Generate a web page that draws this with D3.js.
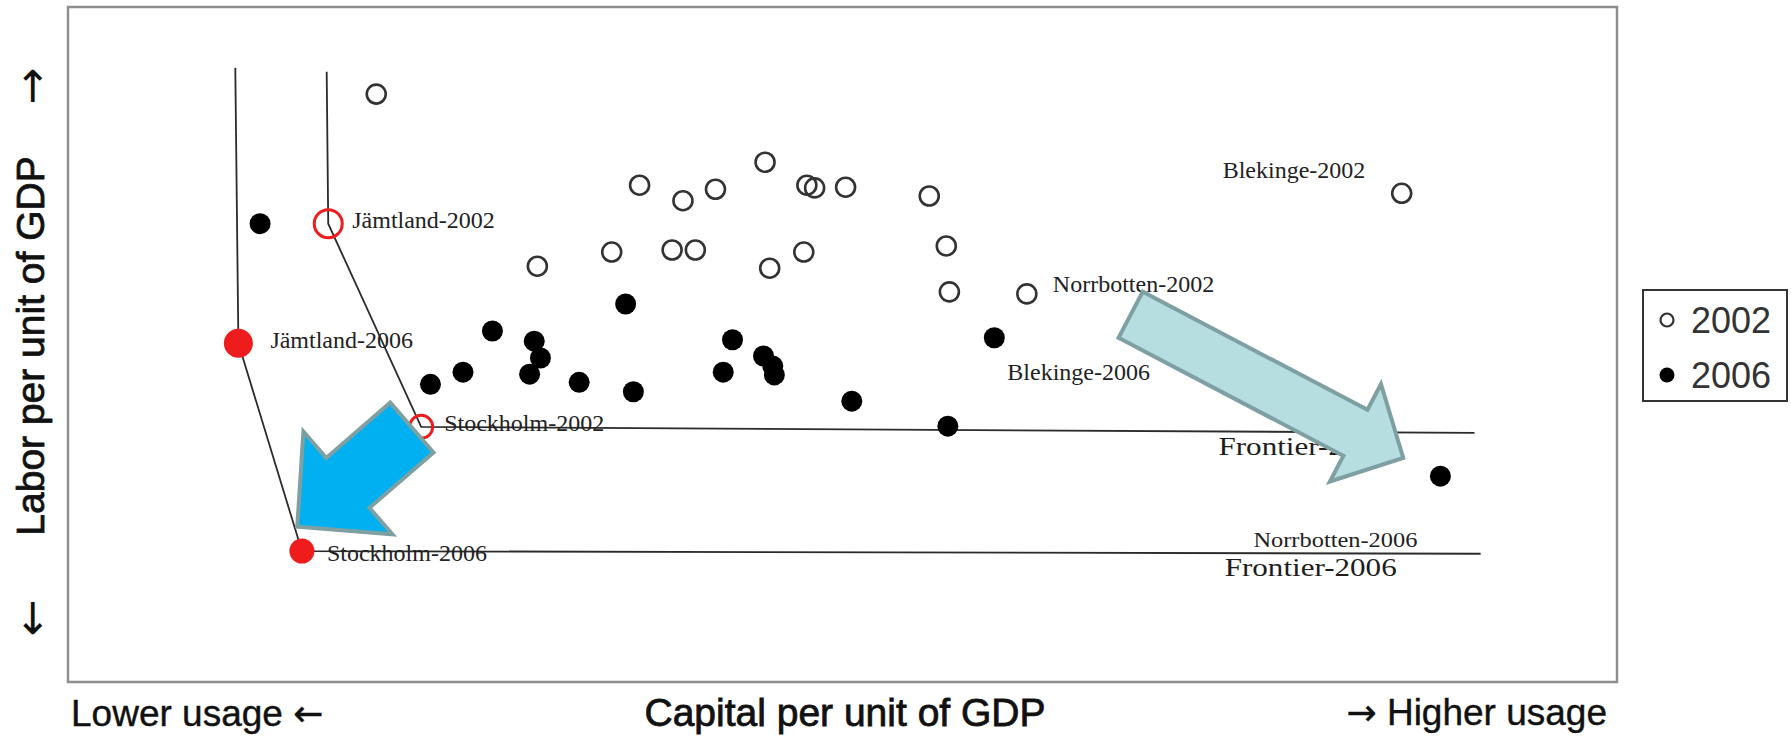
<!DOCTYPE html>
<html>
<head>
<meta charset="utf-8">
<script src="https://cdn.jsdelivr.net/npm/d3@7"></script>
<style>
  body { margin: 0; background: #fff; }
</style>
</head>
<body>
<svg id="canvas" width="1791" height="738"></svg>
<script>
// capital and labor per unit of GDP, as a relative index (0-100 across the plot box)
let capital2002 = [19.9, 36.9, 39.7, 41.8, 45.0, 47.7, 48.2, 50.2, 55.6, 35.1, 39.0, 40.5, 30.3, 45.3, 47.5, 56.7, 56.9, 61.9, 86.1, 16.8, 22.8]
let labor2002   = [87.1, 73.6, 71.3, 73.0, 77.0, 73.6, 73.2, 73.3, 72.0, 63.7, 64.0, 64.0, 61.6, 61.3, 63.7, 64.6, 57.8, 57.5, 72.4, 67.9, 37.8]
let names2002   = ['', '', '', '', '', '', '', '', '', '', '', '', '', '', '', '', '', 'Norrbotten-2002', 'Blekinge-2002', 'Jämtland-2002', 'Stockholm-2002']

let capital2006 = [12.4, 36.0, 27.4, 30.1, 30.5, 29.8, 25.5, 23.4, 33.0, 36.5, 42.9, 42.3, 44.9, 45.5, 45.6, 50.6, 56.8, 59.8, 88.6, 11.0, 15.1]
let labor2006   = [67.9, 56.0, 52.0, 50.5, 48.0, 45.6, 45.9, 44.1, 44.4, 43.0, 50.7, 45.9, 48.3, 46.8, 45.5, 41.6, 37.9, 51.0, 30.5, 50.2, 19.4]
let names2006   = ['', '', '', '', '', '', '', '', '', '', '', '', '', '', '', '', '', 'Blekinge-2006', 'Norrbotten-2006', 'Jämtland-2006', 'Stockholm-2006']

// regions that span the efficiency frontier (drawn in red)
let frontierRegions = ['Jämtland-2002', 'Stockholm-2002', 'Jämtland-2006', 'Stockholm-2006']

// frontier envelopes
let frontier2002Capital = [16.7, 16.8, 22.8, 90.8]
let frontier2002Labor   = [90.4, 67.9, 37.8, 36.9]
let frontier2006Capital = [10.8, 11.0, 15.1, 91.2]
let frontier2006Labor   = [91.0, 50.2, 19.4, 19.0]
let frontierNames = ['Frontier-2002', 'Frontier-2006']

let legendYears = ['2002', '2006']

let canvas = d3.select('#canvas')

let xScale = d3.scaleLinear().domain([0, 100]).range([68, 1617])
let yScale = d3.scaleLinear().domain([0, 100]).range([682, 7])

let makePoints = (cap, lab, names, year) => {
    return cap.map((c, i) => {
        return { x: c, y: lab[i], name: names[i], year: year }
    })
}

let points2002 = makePoints(capital2002, labor2002, names2002, '2002')
let points2006 = makePoints(capital2006, labor2006, names2006, '2006')

// plot box
canvas.append('rect')
      .attr('x', xScale(0))
      .attr('y', yScale(100))
      .attr('width', xScale(100) - xScale(0))
      .attr('height', yScale(0) - yScale(100))
      .attr('fill', 'none')
      .attr('stroke', '#8e8e8e')
      .attr('stroke-width', 2.5)

// frontier lines
let line = d3.line()
             .x((d) => xScale(d[0]))
             .y((d) => yScale(d[1]))

let frontiers = [
    d3.zip(frontier2002Capital, frontier2002Labor),
    d3.zip(frontier2006Capital, frontier2006Labor)
]

canvas.selectAll('.frontier')
      .data(frontiers)
      .enter()
      .append('path')
      .attr('class', 'frontier')
      .attr('d', line)
      .attr('fill', 'none')
      .attr('stroke', '#2b2b2b')
      .attr('stroke-width', 1.8)

// frontier labels, set back from the end of each line
canvas.selectAll('.frontier-label')
      .data(frontiers)
      .enter()
      .append('text')
      .attr('class', 'frontier-label')
      .attr('x', (d) => xScale(d[d.length - 1][0]) - 256)
      .attr('y', (d) => yScale(d[d.length - 1][1]) + 22)
      .attr('textLength', 172)
      .attr('lengthAdjust', 'spacingAndGlyphs')
      .attr('font-family', 'Liberation Serif, Times New Roman, serif')
      .attr('font-size', 26)
      .attr('fill', '#1e1e1e')
      .text((d, i) => frontierNames[i])

// region labels (offsets in px from the point)
let labelOffsets = {
    'Jämtland-2002':   { dx: 24,   dy: 4 },
    'Stockholm-2002':  { dx: 23,   dy: 4 },
    'Norrbotten-2002': { dx: 26,   dy: -2 },
    'Blekinge-2002':   { dx: -179, dy: -15 },
    'Jämtland-2006':   { dx: 32,   dy: 5 },
    'Stockholm-2006':  { dx: 25,   dy: 10 },
    'Blekinge-2006':   { dx: 13,   dy: 42 },
    'Norrbotten-2006': { dx: -187, dy: 71, size: 20, len: 164 }
}

let named = points2002.concat(points2006).filter((p) => p.name !== '')

canvas.selectAll('.region-label')
      .data(named)
      .enter()
      .append('text')
      .attr('class', 'region-label')
      .attr('x', (p) => xScale(p.x) + labelOffsets[p.name].dx)
      .attr('y', (p) => yScale(p.y) + labelOffsets[p.name].dy)
      .attr('font-family', 'Liberation Serif, Times New Roman, serif')
      .attr('font-size', (p) => labelOffsets[p.name].size || 24)
      .attr('fill', '#222')
      .each(function (p) {
          if (labelOffsets[p.name].len) {
              d3.select(this)
                .attr('textLength', labelOffsets[p.name].len)
                .attr('lengthAdjust', 'spacingAndGlyphs')
          }
      })
      .text((p) => p.name)

// 2002: open circles
let isRed = (p) => frontierRegions.includes(p.name)

canvas.selectAll('.p2002')
      .data(points2002)
      .enter()
      .append('circle')
      .attr('class', 'p2002')
      .attr('cx', (p) => xScale(p.x))
      .attr('cy', (p) => yScale(p.y))
      .attr('r', (p) => {
          if (p.name === 'Jämtland-2002') {
              return 14
          } else if (p.name === 'Stockholm-2002') {
              return 11.5
          }
          return 9.5
      })
      .attr('fill', 'none')
      .attr('stroke', (p) => isRed(p) ? '#ee1c1c' : '#333')
      .attr('stroke-width', (p) => isRed(p) ? 3 : 2.6)

// 2006: filled dots
canvas.selectAll('.p2006')
      .data(points2006)
      .enter()
      .append('circle')
      .attr('class', 'p2006')
      .attr('cx', (p) => xScale(p.x))
      .attr('cy', (p) => yScale(p.y))
      .attr('r', (p) => {
          if (p.name === 'Jämtland-2006') {
              return 14.5
          } else if (p.name === 'Stockholm-2006') {
              return 12.5
          }
          return 10.5
      })
      .attr('fill', (p) => isRed(p) ? '#ee1c1c' : '#000')

// block arrows (annotation), ends given in data units
let arrows = [
    { from: [22.2, 37.7], to: [14.8, 23.0], shaft: 33, wing: 68, head: 67, fill: '#00b0f0' },
    { from: [68.6, 54.4], to: [86.2, 33.2], shaft: 26, wing: 55, head: 54, fill: '#b6dee1' }
]

let arrowPath = (a) => {
    let tx = xScale(a.from[0]), ty = yScale(a.from[1])
    let px = xScale(a.to[0]), py = yScale(a.to[1])
    let len = Math.hypot(px - tx, py - ty)
    let ux = (px - tx) / len, uy = (py - ty) / len
    let nx = -uy, ny = ux
    let bx = px - ux * a.head, by = py - uy * a.head
    let pts = [
        [tx + nx * a.shaft, ty + ny * a.shaft],
        [bx + nx * a.shaft, by + ny * a.shaft],
        [bx + nx * a.wing, by + ny * a.wing],
        [px, py],
        [bx - nx * a.wing, by - ny * a.wing],
        [bx - nx * a.shaft, by - ny * a.shaft],
        [tx - nx * a.shaft, ty - ny * a.shaft]
    ]
    return d3.line()(pts) + 'Z'
}

canvas.selectAll('.arrow')
      .data(arrows)
      .enter()
      .append('path')
      .attr('class', 'arrow')
      .attr('d', arrowPath)
      .attr('fill', (a) => a.fill)
      .attr('stroke', '#7fa0a3')
      .attr('stroke-width', 4)
      .attr('stroke-linejoin', 'miter')

// legend
let legend = canvas.append('g')
                   .attr('transform', 'translate(1643, 290)')

legend.append('rect')
      .attr('width', 144)
      .attr('height', 111)
      .attr('fill', '#fff')
      .attr('stroke', '#333')
      .attr('stroke-width', 2)

let item = legend.selectAll('.item')
                 .data(legendYears)
                 .enter()
                 .append('g')
                 .attr('class', 'item')
                 .attr('transform', (d, i) => 'translate(0, ' + (30 + i * 55) + ')')

item.append('circle')
    .attr('cx', 24)
    .attr('cy', 0)
    .attr('r', (d) => d === '2002' ? 6.5 : 7.5)
    .attr('fill', (d) => d === '2002' ? 'none' : '#000')
    .attr('stroke', (d) => d === '2002' ? '#333' : 'none')
    .attr('stroke-width', 2.2)

item.append('text')
    .attr('x', 48)
    .attr('y', 13)
    .attr('font-family', 'Liberation Sans, Arial, sans-serif')
    .attr('font-size', 36)
    .attr('fill', '#333')
    .text((d) => d)

// axis titles
let sans = 'Liberation Sans, Arial, sans-serif'
let arrowFont = 'DejaVu Sans, sans-serif'

canvas.append('text')
      .attr('transform', 'translate(44, 346) rotate(-90)')
      .attr('text-anchor', 'middle')
      .attr('font-family', sans)
      .attr('font-size', 39)
      .attr('fill', '#111')
      .attr('stroke', '#111')
      .attr('stroke-width', 0.8)
      .text('Labor per unit of GDP')

canvas.append('text')
      .attr('x', 33)
      .attr('y', 86)
      .attr('text-anchor', 'middle')
      .attr('dominant-baseline', 'central')
      .attr('font-family', arrowFont)
      .attr('font-size', 44)
      .attr('fill', '#111')
      .text('↑')

canvas.append('text')
      .attr('x', 33)
      .attr('y', 618)
      .attr('text-anchor', 'middle')
      .attr('dominant-baseline', 'central')
      .attr('font-family', arrowFont)
      .attr('font-size', 44)
      .attr('fill', '#111')
      .text('↓')

canvas.append('text')
      .attr('x', 845)
      .attr('y', 726)
      .attr('text-anchor', 'middle')
      .attr('font-family', sans)
      .attr('font-size', 39)
      .attr('fill', '#111')
      .attr('stroke', '#111')
      .attr('stroke-width', 0.8)
      .text('Capital per unit of GDP')

let lower = canvas.append('text')
                  .attr('x', 71)
                  .attr('y', 726)
                  .attr('font-family', sans)
                  .attr('font-size', 37)
                  .attr('fill', '#111')
                  .attr('stroke', '#111')
                  .attr('stroke-width', 0.4)
lower.append('tspan').text('Lower usage ')
lower.append('tspan').attr('font-family', arrowFont).attr('font-size', 36).text('←')

let higher = canvas.append('text')
                   .attr('x', 1607)
                   .attr('y', 725)
                   .attr('text-anchor', 'end')
                   .attr('font-family', sans)
                   .attr('font-size', 37)
                   .attr('fill', '#111')
                   .attr('stroke', '#111')
                   .attr('stroke-width', 0.4)
higher.append('tspan').attr('font-family', arrowFont).attr('font-size', 36).text('→')
higher.append('tspan').text(' Higher usage')
</script>
</body>
</html>
